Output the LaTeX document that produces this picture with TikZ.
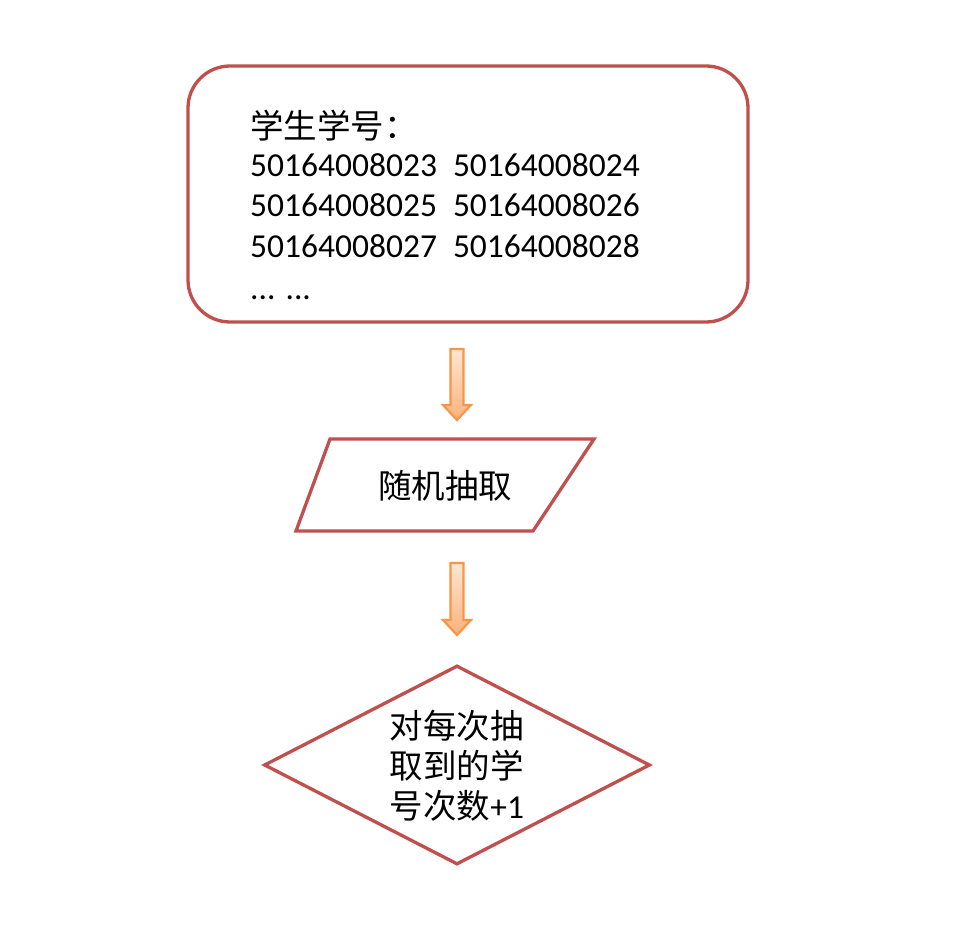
\documentclass[tikz,border=0pt]{standalone}
\usepackage{fontspec}
\setmainfont{Carlito}
\newfontfamily\cjk{Noto Sans CJK SC}
\usetikzlibrary{shapes.geometric,calc}
\definecolor{boxred}{HTML}{C0504D}
\definecolor{arrowor}{HTML}{F79646}
\definecolor{arrowlight}{HTML}{FDE6D3}
\definecolor{arrowdark}{HTML}{F9B27C}
\tikzset{
  redline/.style={draw=boxred, line width=3.3pt},
  txt/.style={inner sep=0pt, font=\fontsize{33.5}{40}\selectfont},
  blockarr/.style={draw=arrowor, line width=2.2pt, line join=miter, top color=arrowlight, bottom color=arrowdark},
}
\newcommand\myblockarrow[2]{%
  \path[blockarr] ($(#1)+(-6.5,0)$) -- ($(#1)+(6.5,0)$) -- ($(#2)+(6.5,-15)$) -- ($(#2)+(14,-15)$) -- (#2) -- ($(#2)+(-14,-15)$) -- ($(#2)+(-6.5,-15)$) -- cycle;}
\begin{document}
\begin{tikzpicture}[x=1pt,y=-1pt]
\useasboundingbox[fill=white] (0,0) rectangle (974,928);
% top rounded box
\node[redline, rounded corners=42pt, minimum width=560pt, minimum height=256pt] (ids) at (468,194) {};
\node[txt, anchor=base west] (l0) at (250,139) {\cjk 学生学号：};
\node[txt, anchor=base west] (l1) at (250,177) {50164008023\hspace{16pt}50164008024};
\node[txt, anchor=base west] (l2) at (250,217) {50164008025\hspace{16pt}50164008026};
\node[txt, anchor=base west] (l3) at (250,257) {50164008027\hspace{16pt}50164008028};
\node[txt, anchor=base west] (l4) at (250,299) {... ...};
% arrow 1
\coordinate (a1s) at (457,349);
\coordinate (a1e) at (457,420);
\myblockarrow{a1s}{a1e}
% parallelogram
\coordinate (p1) at (296,531);
\coordinate (p2) at (533,531);
\coordinate (p3) at (594,439);
\coordinate (p4) at (330,439);
\draw[redline, line join=miter] (p1) -- (p2) -- (p3) -- (p4) -- cycle;
\node[txt] (rand) at (445,486) {\cjk 随机抽取};
% arrow 2
\coordinate (a2s) at (457,563);
\coordinate (a2e) at (457,635);
\myblockarrow{a2s}{a2e}
% diamond
\node[redline, diamond, aspect=1.94, minimum width=386pt, minimum height=199pt, inner sep=0pt] (dia) at (457,765) {};
\node[txt, align=left] (dtext) at (457,766) {\cjk 对每次抽\\\cjk 取到的学\\{\cjk 号次数}+1};
\end{tikzpicture}
\end{document}
